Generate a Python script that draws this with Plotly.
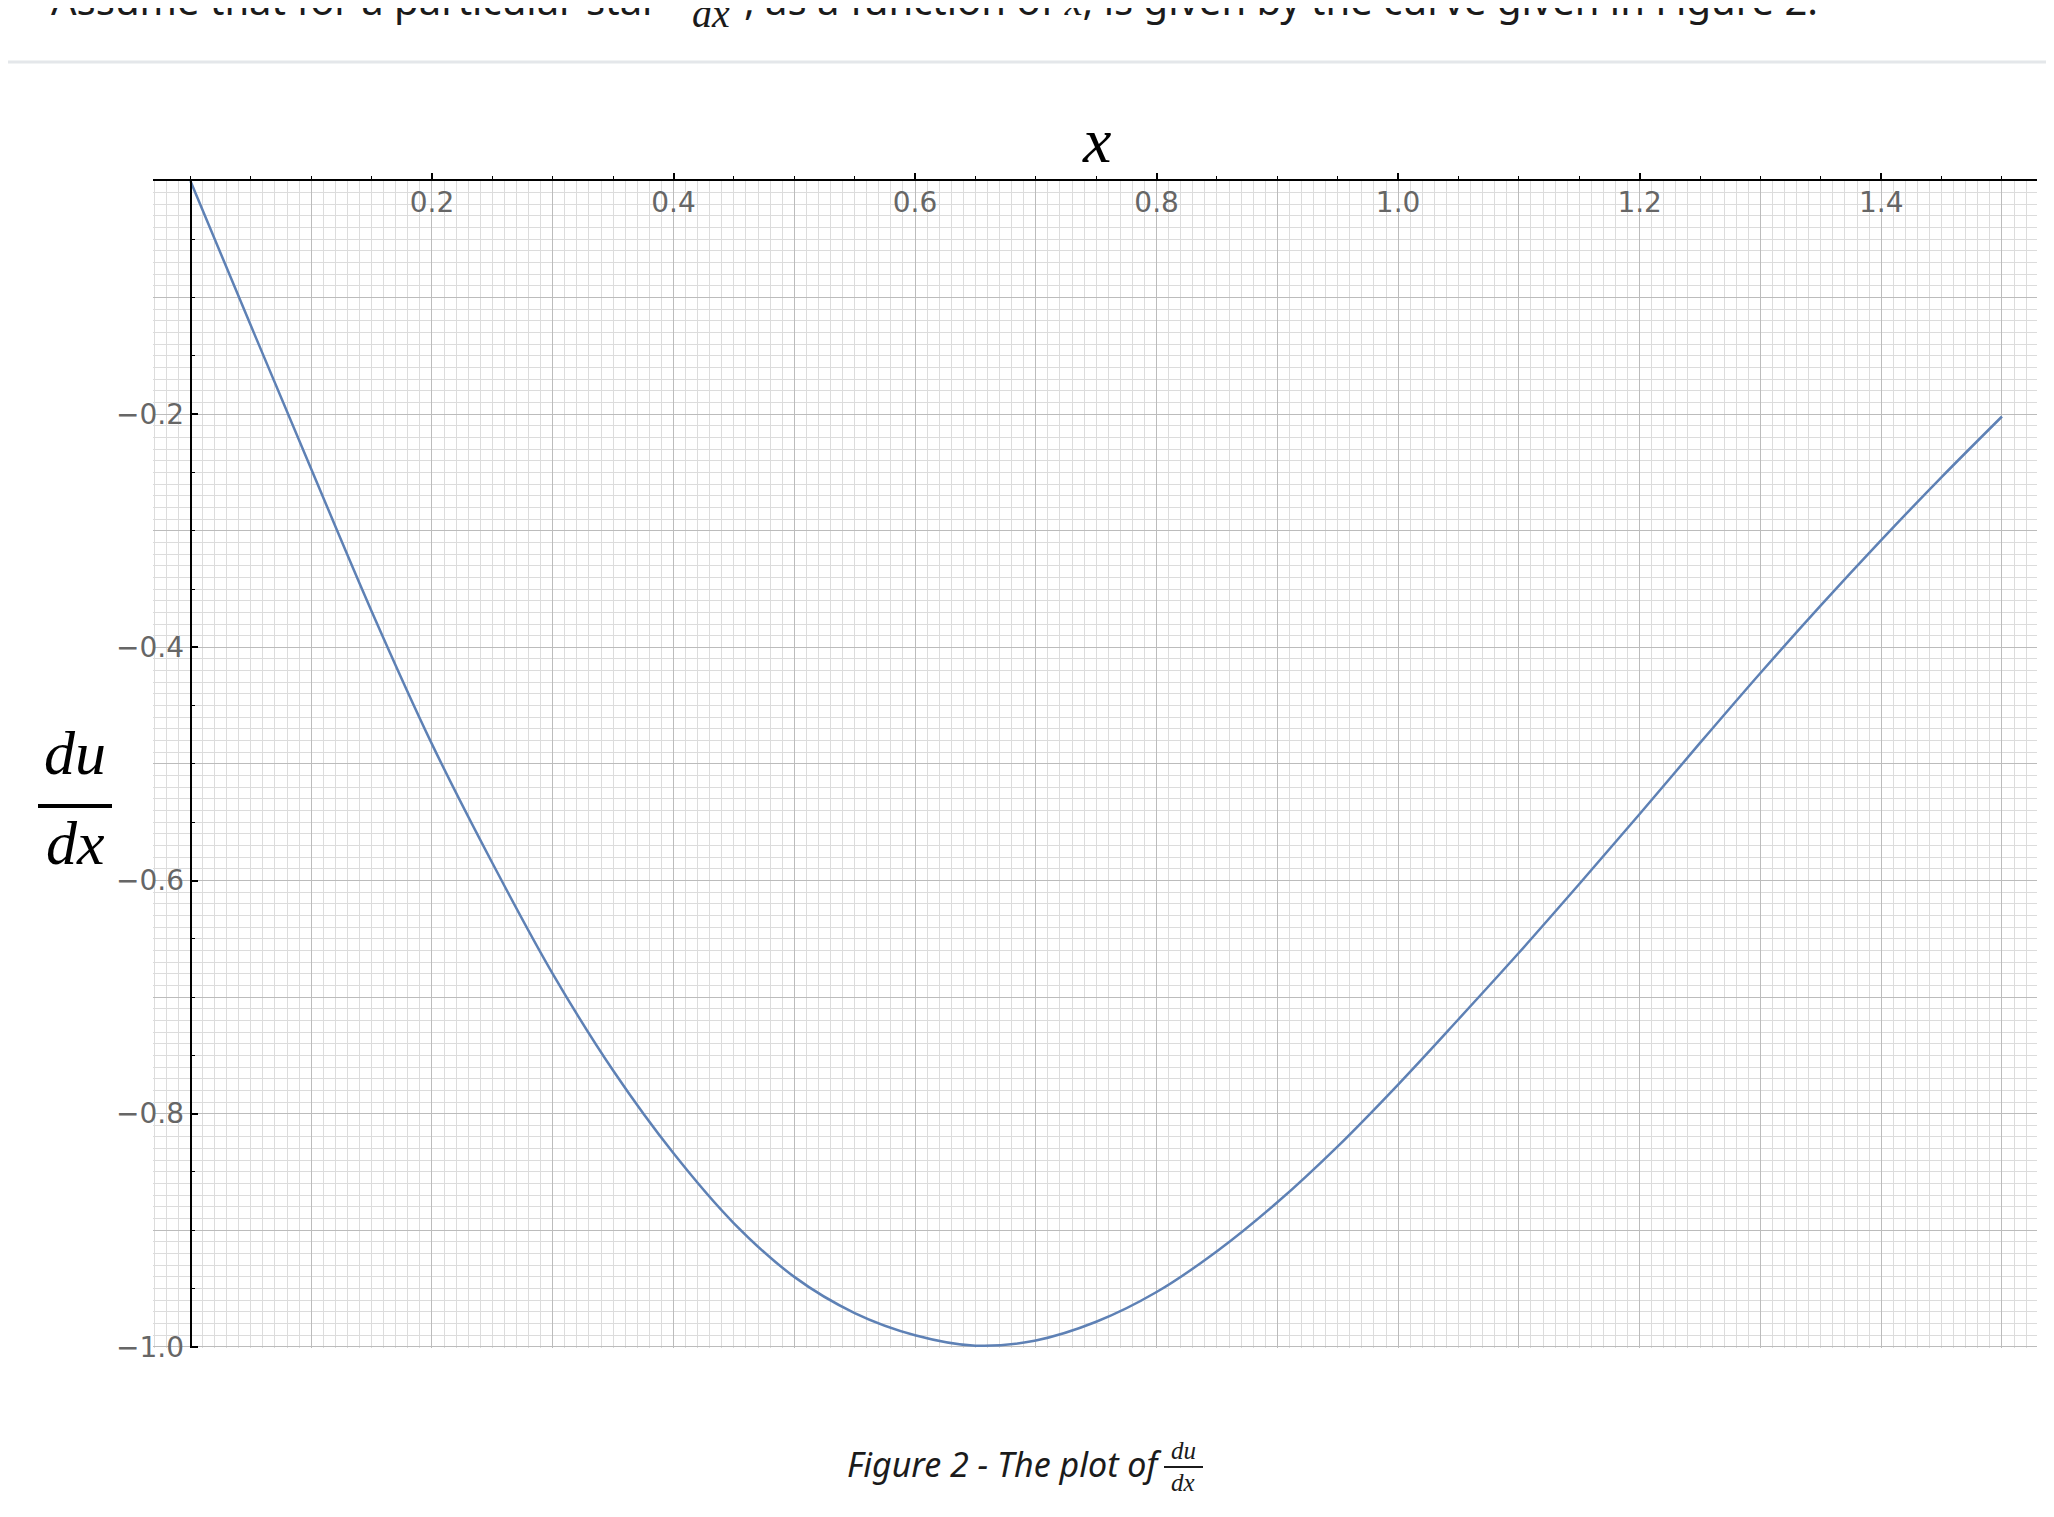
import plotly.graph_objects as go

# ---------------- data ----------------
x_vals = [0.0, 0.05, 0.10, 0.15, 0.20, 0.25, 0.30, 0.35, 0.40, 0.45,
          0.50, 0.55, 0.60, 0.65, 0.70, 0.75, 0.80, 0.85, 0.90, 0.95,
          1.00, 1.05, 1.10, 1.15, 1.20, 1.25, 1.30, 1.35, 1.40, 1.45, 1.50]
du_dx = [0.0, -0.124, -0.247, -0.369, -0.483, -0.585, -0.680, -0.763, -0.834, -0.894,
         -0.940, -0.971, -0.990, -0.999, -0.9945, -0.9785, -0.953, -0.918, -0.876, -0.828,
         -0.775, -0.719, -0.662, -0.603, -0.543, -0.482, -0.422, -0.364, -0.308, -0.254, -0.202]

x_tick_vals = [0.2, 0.4, 0.6, 0.8, 1.0, 1.2, 1.4]
x_tick_text = ["0.2", "0.4", "0.6", "0.8", "1.0", "1.2", "1.4"]
y_tick_vals = [-0.2, -0.4, -0.6, -0.8, -1.0]
y_tick_text = ["\u22120.2", "\u22120.4", "\u22120.6", "\u22120.8", "\u22121.0"]

x_range = [-0.031, 1.529]
y_range = [-1.001, 0.0]

# ---------------- geometry (screen pixels of the reference) ----------------
OFF = 8                      # default body margin of the html page
FIG_W, FIG_H = 2054 - OFF, 1517 - 2 * OFF
PL, PT, PR, PB = 153, 181, 2037, 1348          # plot area in screen px
L, T, R, B = PL - OFF, PT - OFF, PR - OFF, PB - OFF


def px(X):
    return (X - OFF - L) / (R - L)


def py(Y):
    return (B - (Y - OFF)) / (B - T)


SERIF = "Liberation Serif"
SANS = "Noto Sans"
TICKF = dict(family="DejaVu Sans", size=28, color="#666666")
MAJOR_GRID = "#bcbcbc"
MINOR_GRID = "#dcdcdc"

fig = go.Figure()
fig.add_trace(go.Scatter(x=x_vals, y=du_dx, mode="lines",
                         line=dict(color="#5E81B5", width=2.5, shape="spline", smoothing=1.0),
                         hoverinfo="skip", showlegend=False))
fig.add_trace(go.Scatter(x=[], y=[], xaxis="x2", yaxis="y2", showlegend=False, hoverinfo="skip"))

fig.update_layout(
    width=FIG_W, height=FIG_H,
    margin=dict(l=L, r=FIG_W - R, t=T, b=FIG_H - B, pad=0, autoexpand=False),
    paper_bgcolor="white", plot_bgcolor="white",
    showlegend=False,
    xaxis=dict(range=x_range, side="top", anchor="y", domain=[0, 1],
               showgrid=False, zeroline=False, showline=True, linecolor="black", linewidth=2,
               tickmode="array", tickvals=x_tick_vals, ticktext=x_tick_text,
               ticks="outside", ticklen=6, tickwidth=1.5, tickcolor="black",
               ticklabelposition="inside", ticklabelstandoff=14, tickfont=TICKF,
               minor=dict(tickmode="linear", tick0=0, dtick=0.05, ticks="outside",
                          ticklen=3, tickwidth=1.2, tickcolor="black", showgrid=False)),
    yaxis=dict(range=y_range, anchor="free", position=px(190.7), side="left", domain=[0, 1],
               showgrid=False, zeroline=False, showline=True, linecolor="black", linewidth=2,
               tickmode="array", tickvals=y_tick_vals, ticktext=y_tick_text,
               ticks="inside", ticklen=6, tickwidth=1.5, tickcolor="black", tickfont=TICKF,
               minor=dict(tickmode="linear", tick0=0, dtick=0.05, ticks="inside",
                          ticklen=3, tickwidth=1.2, tickcolor="black", showgrid=False)),
    xaxis2=dict(range=x_range, overlaying="x", anchor="y2", side="bottom",
                showgrid=True, gridcolor=MAJOR_GRID, gridwidth=1.2, tickmode="linear", tick0=0, dtick=0.1,
                showticklabels=False, ticks="", showline=False, zeroline=False,
                minor=dict(tickmode="linear", tick0=0, dtick=0.01, showgrid=True,
                           gridcolor=MINOR_GRID, gridwidth=1.2, ticks="")),
    yaxis2=dict(range=y_range, overlaying="y", anchor="x2", side="right",
                showgrid=True, gridcolor=MAJOR_GRID, gridwidth=1.2, tickmode="linear", tick0=0, dtick=0.1,
                showticklabels=False, ticks="", showline=False, zeroline=False,
                minor=dict(tickmode="linear", tick0=0, dtick=0.01, showgrid=True,
                           gridcolor=MINOR_GRID, gridwidth=1.2, ticks="")),
)


def label(text, X, baseline, size, family, descent, xanchor="center", color="black"):
    fig.add_annotation(text=text, xref="paper", yref="paper",
                       x=px(X), y=py(baseline + descent * size + 1),
                       xanchor=xanchor, yanchor="bottom", showarrow=False,
                       font=dict(family=family, size=size, color=color))


# top sentence (cut off by the page top)
label("Assume that for a particular star", 661, 16, 40, SANS, 0.293, "right", "#1b1b1b")
label("<i>dx</i>", 711, 28, 40, SERIF, 0.216, "center", "#1b1b1b")
label(", as a function of <span style=\"font-family:'Liberation Serif'\"><i>x</i></span>, "
      "is given by the curve given in Figure 2.", 742, 16, 40, SANS, 0.293, "left", "#1b1b1b")

# separator line
fig.add_shape(type="line", xref="paper", yref="paper", x0=px(0), x1=px(2054), y0=py(62), y1=py(62),
              line=dict(color="#e4e7ea", width=3))

# axis titles
label("<i>x</i>", 1096, 163, 64, SERIF, 0.216)
label("<i>du</i>", 75, 775, 62, SERIF, 0.216)
label("<i>dx</i>", 75, 865, 62, SERIF, 0.216)
fig.add_shape(type="line", xref="paper", yref="paper", x0=px(38), x1=px(112), y0=py(806), y1=py(806),
              line=dict(color="black", width=4))

# caption
label("<i>Figure 2 - The plot of</i>", 845, 1478, 34, SANS, 0.293, "left", "#1b1b1b")
label("<i>du</i>", 1183, 1460, 25, SERIF, 0.216, "center", "#1b1b1b")
label("<i>dx</i>", 1183, 1492, 25, SERIF, 0.216, "center", "#1b1b1b")
fig.add_shape(type="line", xref="paper", yref="paper", x0=px(1164), x1=px(1203), y0=py(1467), y1=py(1467),
              line=dict(color="#1b1b1b", width=2))

fig.write_html("out.html")
